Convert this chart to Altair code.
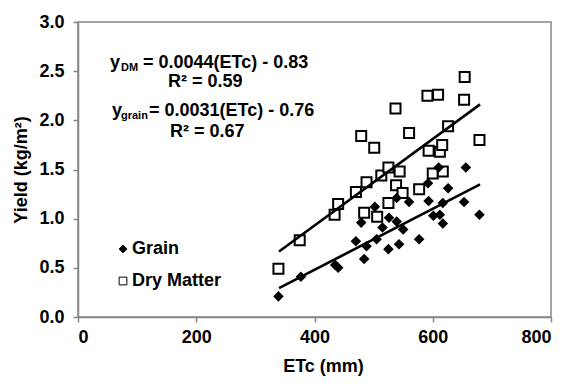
import altair as alt
import pandas as pd

# ---- data ----
series_names = ["Grain", "Dry Matter"]

grain_etc = [339, 377, 435, 440, 470, 479, 484, 488, 502, 505, 515, 525, 526, 539, 539,
             543, 550, 560, 577, 592, 593, 601, 610, 612, 617, 617, 626, 653, 656, 679]
grain_yield = [0.21, 0.41, 0.53, 0.50, 0.77, 0.96, 0.59, 0.72, 1.12, 0.79, 0.91, 0.69, 1.01, 1.21, 0.97,
               0.74, 0.89, 1.17, 0.79, 1.36, 1.18, 1.03, 1.52, 1.04, 1.16, 0.95, 1.31, 1.17, 1.52, 1.04]

dm_etc = [339, 375, 434, 440, 470, 479, 484, 488, 501, 506, 513, 525, 525, 537, 538,
          544, 549, 560, 577, 591, 593, 600, 609, 612, 616, 617, 626, 653, 654, 679]
dm_yield = [0.49, 0.78, 1.04, 1.15, 1.27, 1.84, 1.06, 1.37, 1.72, 1.02, 1.44, 1.52, 1.16, 2.12, 1.34,
            1.48, 1.26, 1.87, 1.30, 2.25, 1.69, 1.46, 2.26, 1.68, 1.75, 1.48, 1.94, 2.21, 2.44, 1.80]

# fitted equations printed on the chart (slope, intercept) and the ETc span of each trend line
dm_fit = (0.0044, -0.83)
grain_fit = (0.0031, -0.76)
fit_span = [340, 680]

x_ticks = [0, 200, 400, 600, 800]
y_ticks = [0.0, 0.5, 1.0, 1.5, 2.0, 2.5, 3.0]

# ---- tables ----
grain_df = pd.DataFrame({"ETc": grain_etc, "Yield": grain_yield, "Series": ["Grain"] * len(grain_etc)})
dm_df = pd.DataFrame({"ETc": dm_etc, "Yield": dm_yield, "Series": ["Dry Matter"] * len(dm_etc)})

line_rows = []
for name, (m, b) in [("Grain", grain_fit), ("Dry Matter", dm_fit)]:
    for e in fit_span:
        line_rows.append({"ETc": e, "Yield": m * e + b, "Series": name})
lines = pd.DataFrame(line_rows)

FONT = "Liberation Sans"
GRAY = "#868686"
xs = alt.Scale(domain=[0, 800], nice=False, zero=False)
ys = alt.Scale(domain=[0, 3], nice=False, zero=False)

x_enc = alt.X("ETc:Q", scale=xs, title="ETc (mm)",
              axis=alt.Axis(values=x_ticks, format="d", titleX=245))
y_enc = alt.Y("Yield:Q", scale=ys, title="Yield (kg/m²)",
              axis=alt.Axis(values=y_ticks, format=".1f"))

leg = alt.Legend(
    orient="none", legendX=36, legendY=218, title=None, padding=0, rowPadding=14,
    labelFont=FONT, labelFontSize=18, labelFontWeight="bold", labelColor="black",
    symbolSize=60, symbolStrokeWidth=1, labelOffset=0,
)
shape_enc = alt.Shape("Series:N", scale=alt.Scale(domain=series_names, range=["diamond", "square"]),
                      legend=leg)
fill_enc = alt.Fill("Series:N", scale=alt.Scale(domain=series_names, range=["black", "white"]),
                    legend=leg)
stroke_enc = alt.Stroke("Series:N", scale=alt.Scale(domain=series_names, range=["black", "black"]),
                        legend=leg)

grain_pts = alt.Chart(grain_df).mark_point(
    filled=True, strokeWidth=2, opacity=1, size=60
).encode(x=x_enc, y=y_enc, shape=shape_enc, fill=fill_enc, stroke=stroke_enc)

dm_pts = alt.Chart(dm_df).mark_point(
    filled=True, strokeWidth=2, opacity=1, size=100
).encode(x=x_enc, y=y_enc, shape=shape_enc, fill=fill_enc, stroke=stroke_enc)

trend = alt.Chart(lines).mark_line(color="black", strokeWidth=2.6).encode(
    x=alt.X("ETc:Q", scale=xs),
    y=alt.Y("Yield:Q", scale=ys),
    detail="Series:N",
)

def txt(s, x, y, size=18):
    return alt.Chart(pd.DataFrame({"t": [s]})).mark_text(
        align="left", baseline="alphabetic", font=FONT, fontWeight="bold",
        fontSize=size, color="black",
    ).encode(text="t:N", x=alt.value(x), y=alt.value(y))

ann = [
    txt("y", 32, 46), txt("DM", 43, 49, 11), txt("= 0.0044(ETc) - 0.83", 65, 46),
    txt("R² = 0.59", 90, 65),
    txt("y", 34, 94), txt("grain", 43, 97, 11), txt("= 0.0031(ETc) - 0.76", 71, 94),
    txt("R² = 0.67", 92, 114.5),
]

chart = alt.layer(dm_pts, grain_pts, trend, *ann).properties(
    width=473, height=295,
    autosize=alt.AutoSizeParams(type="none"),
    padding={"left": 70, "top": 14, "right": 3, "bottom": 59},
).configure_view(
    stroke=GRAY, strokeWidth=1.5,
).configure_axis(
    grid=False, domainColor=GRAY, domainWidth=1.5, tickColor=GRAY, tickWidth=1.5, tickSize=5,
    labelFont=FONT, labelFontSize=18, labelFontWeight="bold", labelColor="black",
    titleFont=FONT, titleFontSize=18, titleFontWeight="bold", titleColor="black",
).configure_axisX(
    labelPadding=6, titlePadding=11,
).configure_axisY(
    labelPadding=9, titlePadding=8,
)

chart.save("out.html", embed_options={"renderer": "svg", "actions": False})
